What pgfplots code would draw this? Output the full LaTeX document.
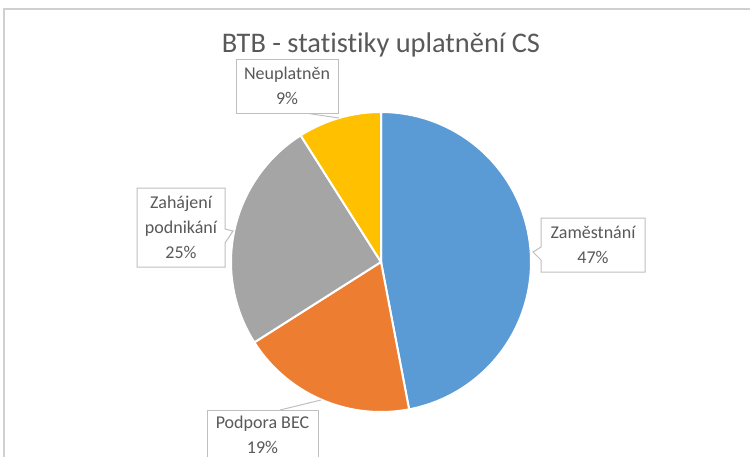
\documentclass[border=0pt]{standalone}
\usepackage{pgfplots}
\pgfplotsset{compat=1.18}
\usepackage{pgfplotstable}
\usepackage{fontspec}
\setmainfont{Carlito}[Ligatures={NoCommon}]
\definecolor{cBlue}{HTML}{5B9BD5}
\definecolor{cOrange}{HTML}{ED7D31}
\definecolor{cGray}{HTML}{A5A5A5}
\definecolor{cYellow}{HTML}{FFC000}
\definecolor{txt}{HTML}{595959}
\definecolor{boxc}{HTML}{BFBFBF}
\definecolor{framec}{HTML}{D0D0D0}
\pgfplotstableread{
name value
Zamestnani 47
PodporaBEC 19
Zahajeni 25
Neuplatnen 9
}\piedata
\pgfplotstablegetelem{0}{value}\of\piedata \let\vA\pgfplotsretval
\pgfplotstablegetelem{1}{value}\of\piedata \let\vB\pgfplotsretval
\pgfplotstablegetelem{2}{value}\of\piedata \let\vC\pgfplotsretval
\pgfplotstablegetelem{3}{value}\of\piedata \let\vD\pgfplotsretval
\pgfmathsetmacro\aA{90}
\pgfmathsetmacro\aB{\aA-3.6*\vA}
\pgfmathsetmacro\aC{\aB-3.6*\vB}
\pgfmathsetmacro\aD{\aC-3.6*\vC}
\pgfmathsetmacro\aE{\aD-3.6*\vD}
\begin{document}
\begin{tikzpicture}
\begin{axis}[width=375pt, height=228pt, scale only axis,
  xmin=0, xmax=750, ymin=0, ymax=456, hide axis, clip=false]
% frame
\draw[framec, line width=1pt] (4,-5) -- (4,447) -- (760,447);
% pie
\addplot[draw=white, line width=1pt, fill=cBlue, domain=\aB:\aA, samples=120, variable=\t]
  ({381+150*cos(\t)}, {194+150*sin(\t)}) -- (381,194) -- cycle;
\addplot[draw=white, line width=1pt, fill=cOrange, domain=\aC:\aB, samples=60, variable=\t]
  ({381+150*cos(\t)}, {194+150*sin(\t)}) -- (381,194) -- cycle;
\addplot[draw=white, line width=1pt, fill=cGray, domain=\aD:\aC, samples=80, variable=\t]
  ({381+150*cos(\t)}, {194+150*sin(\t)}) -- (381,194) -- cycle;
\addplot[draw=white, line width=1pt, fill=cYellow, domain=\aE:\aD, samples=40, variable=\t]
  ({381+150*cos(\t)}, {194+150*sin(\t)}) -- (381,194) -- cycle;
% title
\node[text=txt, font=\fontsize{14.2}{16}\selectfont] at (381,411) {BTB - statistiky uplatnění CS};
% labels
\tikzset{lbl/.style={text=txt, align=center, font=\fontsize{9}{12.5}\selectfont}}
% Neuplatnen
\draw[boxc, line width=0.5pt] (305,343) -- (339,338);
\draw[boxc, line width=0.5pt, fill=white] (236,343) rectangle (338,397);
\node[lbl] at (287,370) {Neuplatněn\\9\%};
% Zahajeni
\draw[boxc, line width=0.5pt, fill=white] (137,268) -- (225,268) -- (225,227) -- (233,225) -- (225,213) -- (225,189) -- (137,189) -- cycle;
\node[lbl] at (181,228.5) {Zahájení\\podnikání\\25\%};
% Zamestnani
\draw[boxc, line width=0.5pt, fill=white] (541,238) -- (645,238) -- (645,184) -- (541,184) -- (541,196) -- (533,204) -- (541,209) -- cycle;
\node[lbl] at (593,211) {Zaměstnání\\47\%};
% Podpora BEC
\draw[boxc, line width=0.5pt] (280,46) -- (321,56);
\draw[boxc, line width=0.5pt, fill=white] (207,-12) rectangle (318,46);
\node[lbl] at (262.5,21.5) {Podpora BEC\\19\%};
\end{axis}
\pgfresetboundingbox
\path (current axis.south west) rectangle (current axis.north east);
\end{tikzpicture}
\end{document}
